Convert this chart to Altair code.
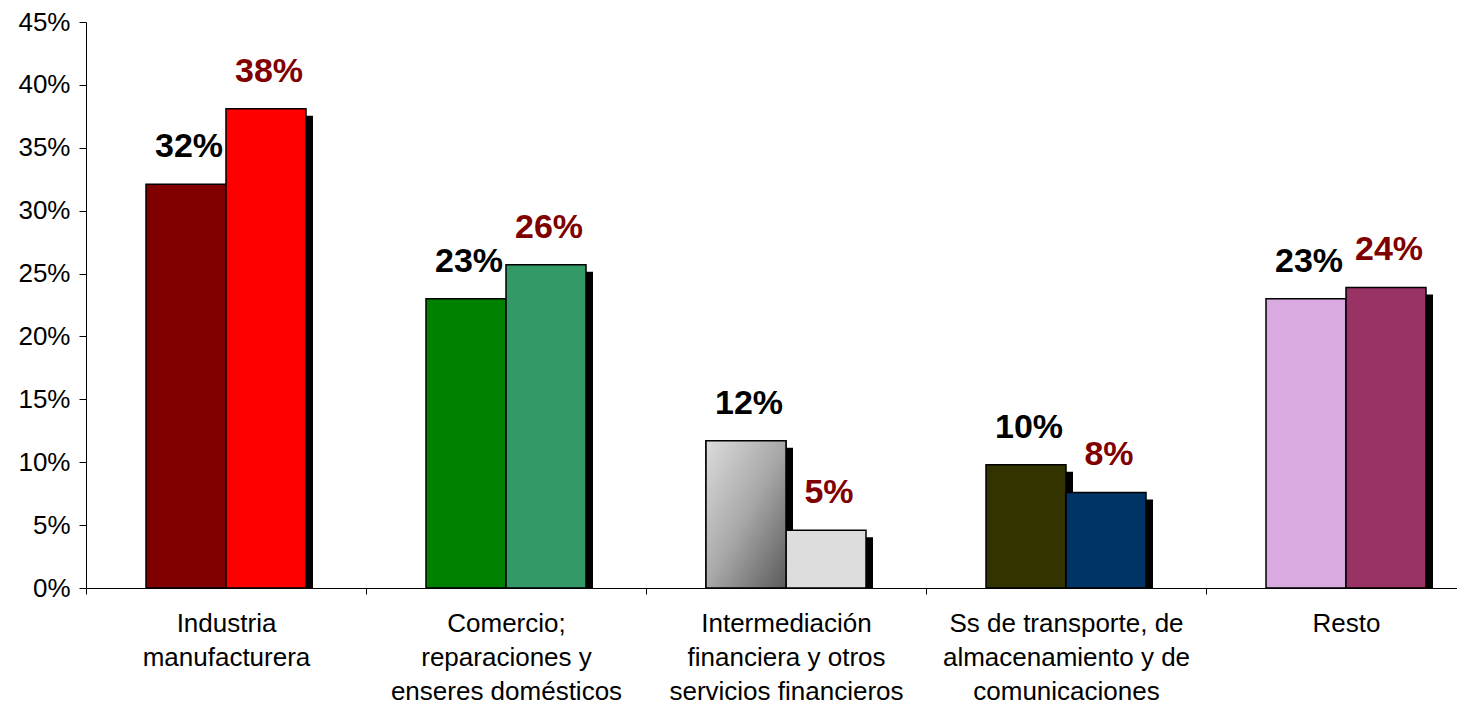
import altair as alt
import pandas as pd

categories = [
    "Industria\nmanufacturera",
    "Comercio;\nreparaciones y\nenseres domésticos",
    "Intermediación\nfinanciera y otros\nservicios financieros",
    "Ss de transporte, de\nalmacenamiento y de\ncomunicaciones",
    "Resto",
]
series_names = ["Serie 1", "Serie 2"]
values_s1 = [0.321, 0.230, 0.117, 0.098, 0.230]
values_s2 = [0.381, 0.257, 0.046, 0.076, 0.239]
colors_s1 = ["#800000", "#008000", "#B0B0B0", "#333300", "#D9AAE0"]
colors_s2 = ["#FF0000", "#339966", "#DDDDDD", "#003366", "#993366"]
y_ticks = [0, 0.05, 0.10, 0.15, 0.20, 0.25, 0.30, 0.35, 0.40, 0.45]

rows = []
keys, colors = [], []
for i, cat in enumerate(categories):
    for j, (s, vals, cols) in enumerate(
        [(series_names[0], values_s1, colors_s1), (series_names[1], values_s2, colors_s2)]
    ):
        k = f"{i}-{j}"
        rows.append({"cat": cat, "series": s, "value": vals[i], "key": k})
        keys.append(k)
        colors.append(cols[i])
df = pd.DataFrame(rows)

FONT = "Liberation Sans"

x_enc = alt.X(
    "cat:N",
    sort=categories,
    scale=alt.Scale(range=[0, 1400], paddingInner=0, paddingOuter=0),
    axis=alt.Axis(
        title=None,
        labelAngle=0,
        tickBand="extent",
        labelExpr="split(datum.label, '\\n')",
        labelFontSize=26,
        labelLineHeight=34,
        labelPadding=16,
        labelBaseline="top",
        labelLimit=400,
        tickSize=6,
        labelFont=FONT,
        labelColor="black",
        domainColor="black",
        tickColor="black",
    ),
)
xoff_enc = alt.XOffset(
    "series:N", sort=series_names, scale=alt.Scale(paddingOuter=0.75, paddingInner=0)
)
# shadow: same bar widths, shifted right by ~7px inside the band
xoff_shadow = alt.XOffset(
    "series:N",
    sort=series_names,
    scale=alt.Scale(paddingOuter=0.75, paddingInner=0, align=0.5583),
)
y_enc = alt.Y(
    "value:Q",
    scale=alt.Scale(domain=[0, 0.45], nice=False),
    axis=alt.Axis(
        title=None,
        values=y_ticks,
        format=".0%",
        grid=False,
        labelFontSize=26,
        labelFont=FONT,
        labelColor="black",
        tickSize=7,
        labelPadding=9,
        domainColor="black",
        tickColor="black",
    ),
)

base = alt.Chart(df)

shadow = base.mark_bar(color="black", yOffset=7).encode(
    x=x_enc, xOffset=xoff_shadow, y=y_enc, y2=alt.datum(0)
)

bars = base.mark_bar(stroke="black", strokeWidth=1.5).encode(
    x=x_enc,
    xOffset=xoff_enc,
    y=y_enc,
    color=alt.Color("key:N", scale=alt.Scale(domain=keys, range=colors), legend=None),
)

grad = (
    base.transform_filter(alt.datum.key == "2-0")
    .mark_bar(
        stroke="black",
        strokeWidth=1.5,
        color=alt.Gradient(
            gradient="linear",
            stops=[
                alt.GradientStop(color="#DCDCDC", offset=0),
                alt.GradientStop(color="#A8A8A8", offset=0.5),
                alt.GradientStop(color="#5A5A5A", offset=1),
            ],
            x1=0, y1=0, x2=1, y2=1,
        ),
    )
    .encode(x=x_enc, xOffset=xoff_enc, y=y_enc)
)

labels = base.mark_text(
    font=FONT, fontSize=34, fontWeight="bold", baseline="alphabetic", dy=-27, dx=3
).encode(
    x=x_enc,
    xOffset=xoff_enc,
    y=y_enc,
    text=alt.Text("value:Q", format=".0%"),
    color=alt.condition(alt.datum.series == series_names[0], alt.value("black"), alt.value("#800000")),
)

front = alt.layer(bars, grad, labels)

chart = (
    alt.layer(shadow, front)
    .resolve_scale(xOffset="independent")
    .properties(
        width=1371,
        height=566,
        autosize=alt.AutoSizeParams(type="none"),
        padding={"left": 78, "top": 14, "right": 0, "bottom": 116},
    )
    .configure_view(stroke=None)
)

chart.save("out.html", embed_options={"renderer": "svg", "actions": False})
